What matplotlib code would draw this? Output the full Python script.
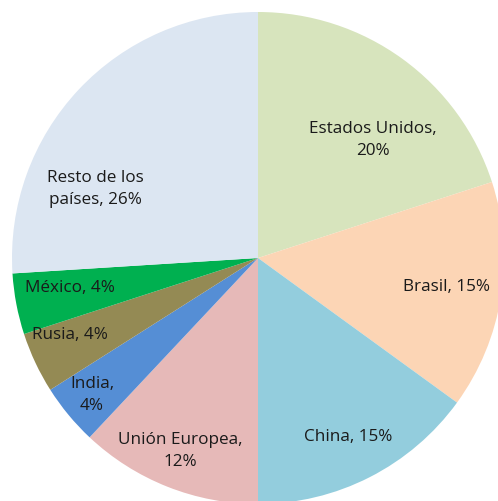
import matplotlib.pyplot as plt

# Datos del gráfico
paises = ['Estados Unidos', 'Brasil', 'China', 'Unión Europea',
          'India', 'Rusia', 'México', 'Resto de los países']
porcentajes = [20, 15, 15, 12, 4, 4, 4, 26]
etiquetas = ['Estados Unidos,\n20%', 'Brasil, 15%', 'China, 15%',
             'Unión Europea,\n12%', 'India,\n4%', 'Rusia, 4%',
             'México, 4%', 'Resto de los\npaíses, 26%']
colores = ['#d7e4bd', '#fcd5b5', '#93cddd', '#e6b9b8',
           '#558ed5', '#948a54', '#00b050', '#dce6f2']

# posiciones de las etiquetas en píxeles de la imagen (x, y desde arriba)
pos_px = [(373, 140), (446, 287), (348, 437), (180, 451),
          (92, 395), (70, 335), (70, 288), (95, 189)]

cx, cy, r = 258, 258, 246
W, H = 498, 501

fig = plt.figure(figsize=(W / 100, H / 100), dpi=100)
ax = fig.add_axes([0, 0, 1, 1])
ax.pie(porcentajes, colors=colores, startangle=90, counterclock=False,
       radius=1, wedgeprops={'linewidth': 0})

for texto, (px, py) in zip(etiquetas, pos_px):
    ax.text((px - cx) / r, (cy - py) / r, texto, ha='center', va='center',
            fontsize=12.3, color='#1a1a1a', family='Open Sans',
            linespacing=1.5)

ax.set_xlim(-cx / r, (W - cx) / r)
ax.set_ylim(-(H - cy) / r, cy / r)
ax.set_aspect('auto')
ax.axis('off')

fig.savefig('out.png', dpi=100)
